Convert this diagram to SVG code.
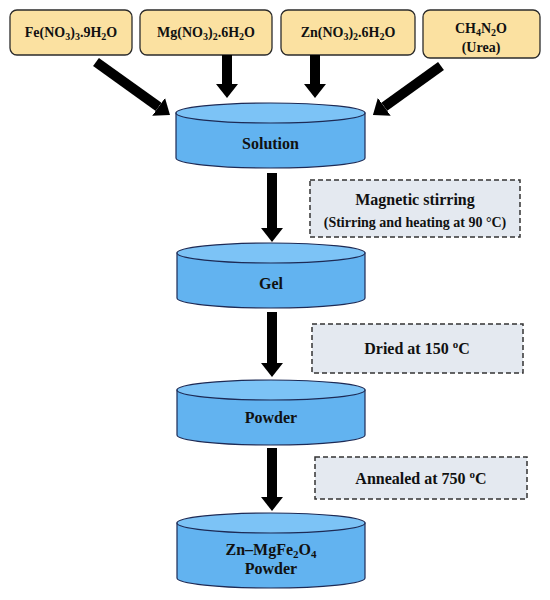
<svg xmlns="http://www.w3.org/2000/svg" width="550" height="600" viewBox="0 0 550 600">
<style>
  .box { fill: #fbe1a1; stroke: #2b2b2b; stroke-width: 1.3; }
  .note { fill: #e4e9f0; stroke: #333; stroke-width: 1.5; stroke-dasharray: 5 3; }
  .body { fill: #62b3f0; stroke: #1d2a55; stroke-width: 1.2; }
  .lid { fill: #7cc3f6; stroke: #1d2a55; stroke-width: 1.2; }
  .t { font-family: "Liberation Serif", "Times New Roman", serif; font-weight: bold; font-size: 14px; fill: #111; text-anchor: middle; }
  .m { font-size: 16px; }
  .s { font-size: 14px; }
  .arr { stroke: #000; stroke-width: 10; fill: none; marker-end: url(#ah); }
</style>
<defs>
  <marker id="ah" markerUnits="userSpaceOnUse" viewBox="0 0 14 22" markerWidth="14" markerHeight="22" refX="0" refY="11" orient="auto">
    <path d="M0,0 L14,11 L0,22 Z" fill="#000"/>
  </marker>
</defs>
<rect width="550" height="600" fill="#ffffff"/>

<g id="fe">
  <rect class="box" x="10" y="10" width="122" height="45" rx="7"/>
  <text class="t" x="71" y="37">Fe(NO<tspan font-size="10" dy="3">3</tspan><tspan dy="-3">)</tspan><tspan font-size="10" dy="3">3</tspan><tspan dy="-3">.9H</tspan><tspan font-size="10" dy="3">2</tspan><tspan dy="-3">O</tspan></text>
</g>
<g id="mg">
  <rect class="box" x="140" y="10" width="132" height="45" rx="7"/>
  <text class="t" x="206" y="37">Mg(NO<tspan font-size="10" dy="3">3</tspan><tspan dy="-3">)</tspan><tspan font-size="10" dy="3">2</tspan><tspan dy="-3">.6H</tspan><tspan font-size="10" dy="3">2</tspan><tspan dy="-3">O</tspan></text>
</g>
<g id="zn">
  <rect class="box" x="281" y="10" width="134" height="45" rx="7"/>
  <text class="t" x="348" y="37">Zn(NO<tspan font-size="10" dy="3">3</tspan><tspan dy="-3">)</tspan><tspan font-size="10" dy="3">2</tspan><tspan dy="-3">.6H</tspan><tspan font-size="10" dy="3">2</tspan><tspan dy="-3">O</tspan></text>
</g>
<g id="urea">
  <rect class="box" x="423" y="10" width="117" height="48" rx="7"/>
  <text class="t" x="481" y="33">CH<tspan font-size="10" dy="3">4</tspan><tspan dy="-3">N</tspan><tspan font-size="10" dy="3">2</tspan><tspan dy="-3">O</tspan></text>
  <text class="t" x="481" y="52">(Urea)</text>
</g>

<g id="solution">
  <path class="body" d="M176,113 L176,158 A94.5,10 0 0 0 365,158 L365,113 Z"/>
  <ellipse class="lid" cx="270.5" cy="113" rx="94.5" ry="10"/>
  <text class="t m" x="270.5" y="149">Solution</text>
</g>
<g id="gel">
  <path class="body" d="M177,253 L177,298 A94,10 0 0 0 365,298 L365,253 Z"/>
  <ellipse class="lid" cx="271" cy="253" rx="94" ry="10"/>
  <text class="t m" x="271" y="289">Gel</text>
</g>
<g id="powder">
  <path class="body" d="M177,390 L177,435 A94,10 0 0 0 365,435 L365,390 Z"/>
  <ellipse class="lid" cx="271" cy="390" rx="94" ry="10"/>
  <text class="t m" x="271" y="423">Powder</text>
</g>
<g id="product">
  <path class="body" d="M177,523 L177,578 A94,10 0 0 0 365,578 L365,523 Z"/>
  <ellipse class="lid" cx="271" cy="523" rx="94" ry="10"/>
  <text class="t m" x="271" y="555">Zn–MgFe<tspan font-size="11" dy="3">2</tspan><tspan dy="-3">O</tspan><tspan font-size="11" dy="3">4</tspan></text>
  <text class="t m" x="271" y="574">Powder</text>
</g>

<g id="note1">
  <rect class="note" x="310" y="180" width="210" height="57"/>
  <text class="t m" x="415" y="205">Magnetic stirring</text>
  <text class="t s" x="415" y="227">(Stirring and heating at 90  °C)</text>
</g>
<g id="note2">
  <rect class="note" x="312" y="324" width="211" height="49"/>
  <text class="t m" x="417" y="354">Dried at 150 <tspan font-size="11" dy="-6">o</tspan><tspan dy="6">C</tspan></text>
</g>
<g id="note3">
  <rect class="note" x="315" y="457" width="212" height="42"/>
  <text class="t m" x="421" y="484">Annealed at 750 <tspan font-size="11" dy="-6">o</tspan><tspan dy="6">C</tspan></text>
</g>

<g id="connectors">
  <line class="arr" x1="96" y1="62" x2="158.6" y2="106.9"/>
  <line class="arr" x1="227" y1="55" x2="227" y2="84"/>
  <line class="arr" x1="315" y1="55" x2="315" y2="84"/>
  <line class="arr" x1="441" y1="66" x2="384.3" y2="106.8"/>
  <line class="arr" x1="272" y1="173" x2="272" y2="228"/>
  <line class="arr" x1="272" y1="312" x2="272" y2="363"/>
  <line class="arr" x1="272" y1="448" x2="272" y2="497"/>
</g>
</svg>
